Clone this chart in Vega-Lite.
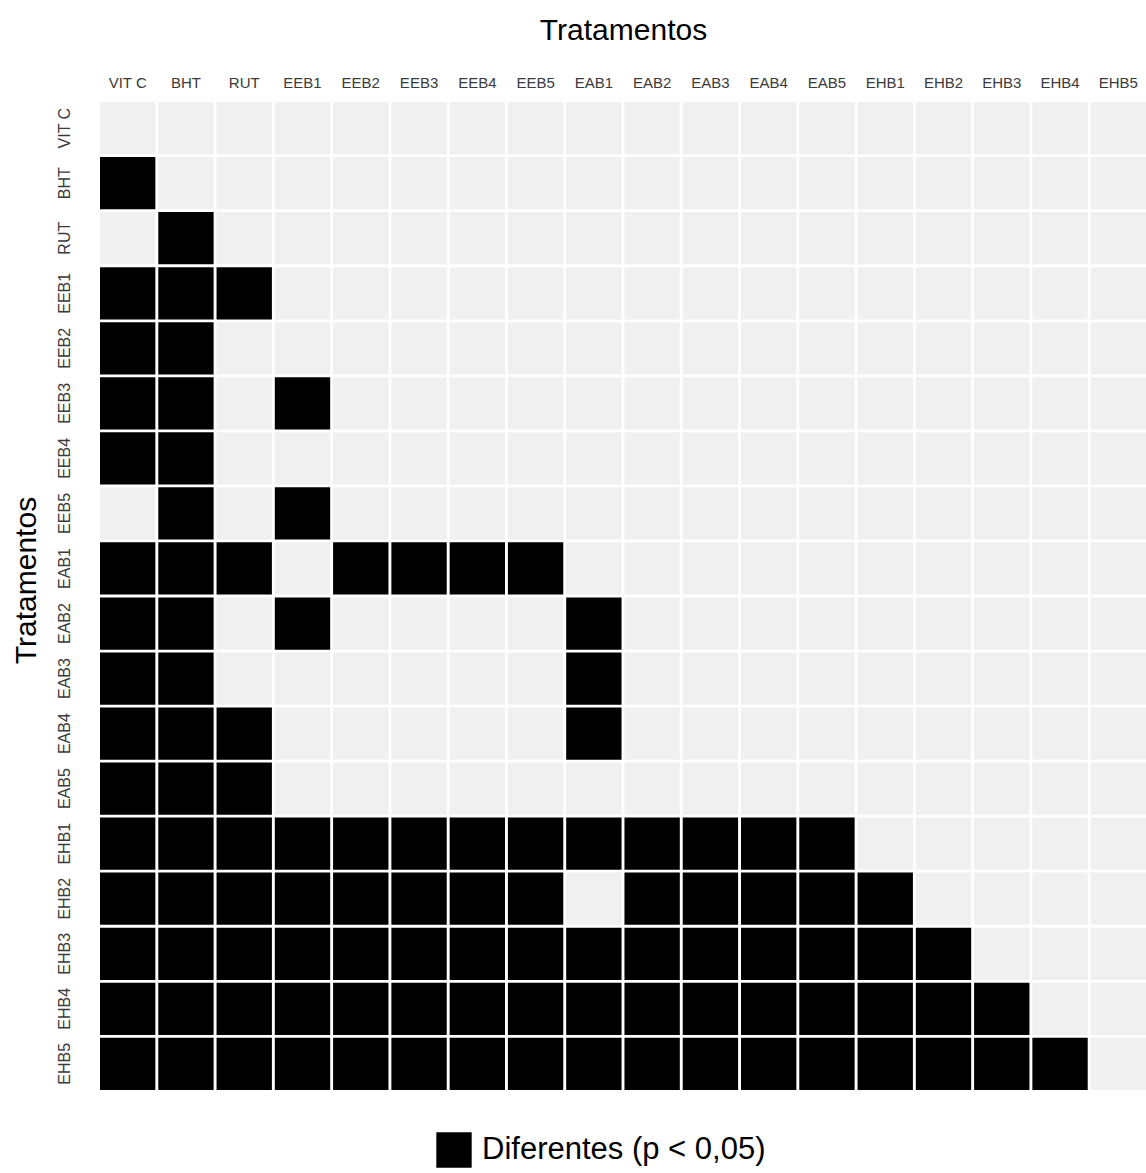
{
 "$schema": "https://vega.github.io/schema/vega-lite/v6.json",
 "width": 1046,
 "height": 988,
 "autosize": {"type": "none"},
 "padding": {"left": 100, "top": 102, "right": 0, "bottom": 83},
 "background": "white",
 "datasets": {
  "m": [
   {"linha":"VIT C","coluna":"VIT C","d":0},{"linha":"VIT C","coluna":"BHT","d":0},{"linha":"VIT C","coluna":"RUT","d":0},{"linha":"VIT C","coluna":"EEB1","d":0},{"linha":"VIT C","coluna":"EEB2","d":0},{"linha":"VIT C","coluna":"EEB3","d":0},{"linha":"VIT C","coluna":"EEB4","d":0},{"linha":"VIT C","coluna":"EEB5","d":0},{"linha":"VIT C","coluna":"EAB1","d":0},{"linha":"VIT C","coluna":"EAB2","d":0},{"linha":"VIT C","coluna":"EAB3","d":0},{"linha":"VIT C","coluna":"EAB4","d":0},{"linha":"VIT C","coluna":"EAB5","d":0},{"linha":"VIT C","coluna":"EHB1","d":0},{"linha":"VIT C","coluna":"EHB2","d":0},{"linha":"VIT C","coluna":"EHB3","d":0},{"linha":"VIT C","coluna":"EHB4","d":0},{"linha":"VIT C","coluna":"EHB5","d":0},
   {"linha":"BHT","coluna":"VIT C","d":1},{"linha":"BHT","coluna":"BHT","d":0},{"linha":"BHT","coluna":"RUT","d":0},{"linha":"BHT","coluna":"EEB1","d":0},{"linha":"BHT","coluna":"EEB2","d":0},{"linha":"BHT","coluna":"EEB3","d":0},{"linha":"BHT","coluna":"EEB4","d":0},{"linha":"BHT","coluna":"EEB5","d":0},{"linha":"BHT","coluna":"EAB1","d":0},{"linha":"BHT","coluna":"EAB2","d":0},{"linha":"BHT","coluna":"EAB3","d":0},{"linha":"BHT","coluna":"EAB4","d":0},{"linha":"BHT","coluna":"EAB5","d":0},{"linha":"BHT","coluna":"EHB1","d":0},{"linha":"BHT","coluna":"EHB2","d":0},{"linha":"BHT","coluna":"EHB3","d":0},{"linha":"BHT","coluna":"EHB4","d":0},{"linha":"BHT","coluna":"EHB5","d":0},
   {"linha":"RUT","coluna":"VIT C","d":0},{"linha":"RUT","coluna":"BHT","d":1},{"linha":"RUT","coluna":"RUT","d":0},{"linha":"RUT","coluna":"EEB1","d":0},{"linha":"RUT","coluna":"EEB2","d":0},{"linha":"RUT","coluna":"EEB3","d":0},{"linha":"RUT","coluna":"EEB4","d":0},{"linha":"RUT","coluna":"EEB5","d":0},{"linha":"RUT","coluna":"EAB1","d":0},{"linha":"RUT","coluna":"EAB2","d":0},{"linha":"RUT","coluna":"EAB3","d":0},{"linha":"RUT","coluna":"EAB4","d":0},{"linha":"RUT","coluna":"EAB5","d":0},{"linha":"RUT","coluna":"EHB1","d":0},{"linha":"RUT","coluna":"EHB2","d":0},{"linha":"RUT","coluna":"EHB3","d":0},{"linha":"RUT","coluna":"EHB4","d":0},{"linha":"RUT","coluna":"EHB5","d":0},
   {"linha":"EEB1","coluna":"VIT C","d":1},{"linha":"EEB1","coluna":"BHT","d":1},{"linha":"EEB1","coluna":"RUT","d":1},{"linha":"EEB1","coluna":"EEB1","d":0},{"linha":"EEB1","coluna":"EEB2","d":0},{"linha":"EEB1","coluna":"EEB3","d":0},{"linha":"EEB1","coluna":"EEB4","d":0},{"linha":"EEB1","coluna":"EEB5","d":0},{"linha":"EEB1","coluna":"EAB1","d":0},{"linha":"EEB1","coluna":"EAB2","d":0},{"linha":"EEB1","coluna":"EAB3","d":0},{"linha":"EEB1","coluna":"EAB4","d":0},{"linha":"EEB1","coluna":"EAB5","d":0},{"linha":"EEB1","coluna":"EHB1","d":0},{"linha":"EEB1","coluna":"EHB2","d":0},{"linha":"EEB1","coluna":"EHB3","d":0},{"linha":"EEB1","coluna":"EHB4","d":0},{"linha":"EEB1","coluna":"EHB5","d":0},
   {"linha":"EEB2","coluna":"VIT C","d":1},{"linha":"EEB2","coluna":"BHT","d":1},{"linha":"EEB2","coluna":"RUT","d":0},{"linha":"EEB2","coluna":"EEB1","d":0},{"linha":"EEB2","coluna":"EEB2","d":0},{"linha":"EEB2","coluna":"EEB3","d":0},{"linha":"EEB2","coluna":"EEB4","d":0},{"linha":"EEB2","coluna":"EEB5","d":0},{"linha":"EEB2","coluna":"EAB1","d":0},{"linha":"EEB2","coluna":"EAB2","d":0},{"linha":"EEB2","coluna":"EAB3","d":0},{"linha":"EEB2","coluna":"EAB4","d":0},{"linha":"EEB2","coluna":"EAB5","d":0},{"linha":"EEB2","coluna":"EHB1","d":0},{"linha":"EEB2","coluna":"EHB2","d":0},{"linha":"EEB2","coluna":"EHB3","d":0},{"linha":"EEB2","coluna":"EHB4","d":0},{"linha":"EEB2","coluna":"EHB5","d":0},
   {"linha":"EEB3","coluna":"VIT C","d":1},{"linha":"EEB3","coluna":"BHT","d":1},{"linha":"EEB3","coluna":"RUT","d":0},{"linha":"EEB3","coluna":"EEB1","d":1},{"linha":"EEB3","coluna":"EEB2","d":0},{"linha":"EEB3","coluna":"EEB3","d":0},{"linha":"EEB3","coluna":"EEB4","d":0},{"linha":"EEB3","coluna":"EEB5","d":0},{"linha":"EEB3","coluna":"EAB1","d":0},{"linha":"EEB3","coluna":"EAB2","d":0},{"linha":"EEB3","coluna":"EAB3","d":0},{"linha":"EEB3","coluna":"EAB4","d":0},{"linha":"EEB3","coluna":"EAB5","d":0},{"linha":"EEB3","coluna":"EHB1","d":0},{"linha":"EEB3","coluna":"EHB2","d":0},{"linha":"EEB3","coluna":"EHB3","d":0},{"linha":"EEB3","coluna":"EHB4","d":0},{"linha":"EEB3","coluna":"EHB5","d":0},
   {"linha":"EEB4","coluna":"VIT C","d":1},{"linha":"EEB4","coluna":"BHT","d":1},{"linha":"EEB4","coluna":"RUT","d":0},{"linha":"EEB4","coluna":"EEB1","d":0},{"linha":"EEB4","coluna":"EEB2","d":0},{"linha":"EEB4","coluna":"EEB3","d":0},{"linha":"EEB4","coluna":"EEB4","d":0},{"linha":"EEB4","coluna":"EEB5","d":0},{"linha":"EEB4","coluna":"EAB1","d":0},{"linha":"EEB4","coluna":"EAB2","d":0},{"linha":"EEB4","coluna":"EAB3","d":0},{"linha":"EEB4","coluna":"EAB4","d":0},{"linha":"EEB4","coluna":"EAB5","d":0},{"linha":"EEB4","coluna":"EHB1","d":0},{"linha":"EEB4","coluna":"EHB2","d":0},{"linha":"EEB4","coluna":"EHB3","d":0},{"linha":"EEB4","coluna":"EHB4","d":0},{"linha":"EEB4","coluna":"EHB5","d":0},
   {"linha":"EEB5","coluna":"VIT C","d":0},{"linha":"EEB5","coluna":"BHT","d":1},{"linha":"EEB5","coluna":"RUT","d":0},{"linha":"EEB5","coluna":"EEB1","d":1},{"linha":"EEB5","coluna":"EEB2","d":0},{"linha":"EEB5","coluna":"EEB3","d":0},{"linha":"EEB5","coluna":"EEB4","d":0},{"linha":"EEB5","coluna":"EEB5","d":0},{"linha":"EEB5","coluna":"EAB1","d":0},{"linha":"EEB5","coluna":"EAB2","d":0},{"linha":"EEB5","coluna":"EAB3","d":0},{"linha":"EEB5","coluna":"EAB4","d":0},{"linha":"EEB5","coluna":"EAB5","d":0},{"linha":"EEB5","coluna":"EHB1","d":0},{"linha":"EEB5","coluna":"EHB2","d":0},{"linha":"EEB5","coluna":"EHB3","d":0},{"linha":"EEB5","coluna":"EHB4","d":0},{"linha":"EEB5","coluna":"EHB5","d":0},
   {"linha":"EAB1","coluna":"VIT C","d":1},{"linha":"EAB1","coluna":"BHT","d":1},{"linha":"EAB1","coluna":"RUT","d":1},{"linha":"EAB1","coluna":"EEB1","d":0},{"linha":"EAB1","coluna":"EEB2","d":1},{"linha":"EAB1","coluna":"EEB3","d":1},{"linha":"EAB1","coluna":"EEB4","d":1},{"linha":"EAB1","coluna":"EEB5","d":1},{"linha":"EAB1","coluna":"EAB1","d":0},{"linha":"EAB1","coluna":"EAB2","d":0},{"linha":"EAB1","coluna":"EAB3","d":0},{"linha":"EAB1","coluna":"EAB4","d":0},{"linha":"EAB1","coluna":"EAB5","d":0},{"linha":"EAB1","coluna":"EHB1","d":0},{"linha":"EAB1","coluna":"EHB2","d":0},{"linha":"EAB1","coluna":"EHB3","d":0},{"linha":"EAB1","coluna":"EHB4","d":0},{"linha":"EAB1","coluna":"EHB5","d":0},
   {"linha":"EAB2","coluna":"VIT C","d":1},{"linha":"EAB2","coluna":"BHT","d":1},{"linha":"EAB2","coluna":"RUT","d":0},{"linha":"EAB2","coluna":"EEB1","d":1},{"linha":"EAB2","coluna":"EEB2","d":0},{"linha":"EAB2","coluna":"EEB3","d":0},{"linha":"EAB2","coluna":"EEB4","d":0},{"linha":"EAB2","coluna":"EEB5","d":0},{"linha":"EAB2","coluna":"EAB1","d":1},{"linha":"EAB2","coluna":"EAB2","d":0},{"linha":"EAB2","coluna":"EAB3","d":0},{"linha":"EAB2","coluna":"EAB4","d":0},{"linha":"EAB2","coluna":"EAB5","d":0},{"linha":"EAB2","coluna":"EHB1","d":0},{"linha":"EAB2","coluna":"EHB2","d":0},{"linha":"EAB2","coluna":"EHB3","d":0},{"linha":"EAB2","coluna":"EHB4","d":0},{"linha":"EAB2","coluna":"EHB5","d":0},
   {"linha":"EAB3","coluna":"VIT C","d":1},{"linha":"EAB3","coluna":"BHT","d":1},{"linha":"EAB3","coluna":"RUT","d":0},{"linha":"EAB3","coluna":"EEB1","d":0},{"linha":"EAB3","coluna":"EEB2","d":0},{"linha":"EAB3","coluna":"EEB3","d":0},{"linha":"EAB3","coluna":"EEB4","d":0},{"linha":"EAB3","coluna":"EEB5","d":0},{"linha":"EAB3","coluna":"EAB1","d":1},{"linha":"EAB3","coluna":"EAB2","d":0},{"linha":"EAB3","coluna":"EAB3","d":0},{"linha":"EAB3","coluna":"EAB4","d":0},{"linha":"EAB3","coluna":"EAB5","d":0},{"linha":"EAB3","coluna":"EHB1","d":0},{"linha":"EAB3","coluna":"EHB2","d":0},{"linha":"EAB3","coluna":"EHB3","d":0},{"linha":"EAB3","coluna":"EHB4","d":0},{"linha":"EAB3","coluna":"EHB5","d":0},
   {"linha":"EAB4","coluna":"VIT C","d":1},{"linha":"EAB4","coluna":"BHT","d":1},{"linha":"EAB4","coluna":"RUT","d":1},{"linha":"EAB4","coluna":"EEB1","d":0},{"linha":"EAB4","coluna":"EEB2","d":0},{"linha":"EAB4","coluna":"EEB3","d":0},{"linha":"EAB4","coluna":"EEB4","d":0},{"linha":"EAB4","coluna":"EEB5","d":0},{"linha":"EAB4","coluna":"EAB1","d":1},{"linha":"EAB4","coluna":"EAB2","d":0},{"linha":"EAB4","coluna":"EAB3","d":0},{"linha":"EAB4","coluna":"EAB4","d":0},{"linha":"EAB4","coluna":"EAB5","d":0},{"linha":"EAB4","coluna":"EHB1","d":0},{"linha":"EAB4","coluna":"EHB2","d":0},{"linha":"EAB4","coluna":"EHB3","d":0},{"linha":"EAB4","coluna":"EHB4","d":0},{"linha":"EAB4","coluna":"EHB5","d":0},
   {"linha":"EAB5","coluna":"VIT C","d":1},{"linha":"EAB5","coluna":"BHT","d":1},{"linha":"EAB5","coluna":"RUT","d":1},{"linha":"EAB5","coluna":"EEB1","d":0},{"linha":"EAB5","coluna":"EEB2","d":0},{"linha":"EAB5","coluna":"EEB3","d":0},{"linha":"EAB5","coluna":"EEB4","d":0},{"linha":"EAB5","coluna":"EEB5","d":0},{"linha":"EAB5","coluna":"EAB1","d":0},{"linha":"EAB5","coluna":"EAB2","d":0},{"linha":"EAB5","coluna":"EAB3","d":0},{"linha":"EAB5","coluna":"EAB4","d":0},{"linha":"EAB5","coluna":"EAB5","d":0},{"linha":"EAB5","coluna":"EHB1","d":0},{"linha":"EAB5","coluna":"EHB2","d":0},{"linha":"EAB5","coluna":"EHB3","d":0},{"linha":"EAB5","coluna":"EHB4","d":0},{"linha":"EAB5","coluna":"EHB5","d":0},
   {"linha":"EHB1","coluna":"VIT C","d":1},{"linha":"EHB1","coluna":"BHT","d":1},{"linha":"EHB1","coluna":"RUT","d":1},{"linha":"EHB1","coluna":"EEB1","d":1},{"linha":"EHB1","coluna":"EEB2","d":1},{"linha":"EHB1","coluna":"EEB3","d":1},{"linha":"EHB1","coluna":"EEB4","d":1},{"linha":"EHB1","coluna":"EEB5","d":1},{"linha":"EHB1","coluna":"EAB1","d":1},{"linha":"EHB1","coluna":"EAB2","d":1},{"linha":"EHB1","coluna":"EAB3","d":1},{"linha":"EHB1","coluna":"EAB4","d":1},{"linha":"EHB1","coluna":"EAB5","d":1},{"linha":"EHB1","coluna":"EHB1","d":0},{"linha":"EHB1","coluna":"EHB2","d":0},{"linha":"EHB1","coluna":"EHB3","d":0},{"linha":"EHB1","coluna":"EHB4","d":0},{"linha":"EHB1","coluna":"EHB5","d":0},
   {"linha":"EHB2","coluna":"VIT C","d":1},{"linha":"EHB2","coluna":"BHT","d":1},{"linha":"EHB2","coluna":"RUT","d":1},{"linha":"EHB2","coluna":"EEB1","d":1},{"linha":"EHB2","coluna":"EEB2","d":1},{"linha":"EHB2","coluna":"EEB3","d":1},{"linha":"EHB2","coluna":"EEB4","d":1},{"linha":"EHB2","coluna":"EEB5","d":1},{"linha":"EHB2","coluna":"EAB1","d":0},{"linha":"EHB2","coluna":"EAB2","d":1},{"linha":"EHB2","coluna":"EAB3","d":1},{"linha":"EHB2","coluna":"EAB4","d":1},{"linha":"EHB2","coluna":"EAB5","d":1},{"linha":"EHB2","coluna":"EHB1","d":1},{"linha":"EHB2","coluna":"EHB2","d":0},{"linha":"EHB2","coluna":"EHB3","d":0},{"linha":"EHB2","coluna":"EHB4","d":0},{"linha":"EHB2","coluna":"EHB5","d":0},
   {"linha":"EHB3","coluna":"VIT C","d":1},{"linha":"EHB3","coluna":"BHT","d":1},{"linha":"EHB3","coluna":"RUT","d":1},{"linha":"EHB3","coluna":"EEB1","d":1},{"linha":"EHB3","coluna":"EEB2","d":1},{"linha":"EHB3","coluna":"EEB3","d":1},{"linha":"EHB3","coluna":"EEB4","d":1},{"linha":"EHB3","coluna":"EEB5","d":1},{"linha":"EHB3","coluna":"EAB1","d":1},{"linha":"EHB3","coluna":"EAB2","d":1},{"linha":"EHB3","coluna":"EAB3","d":1},{"linha":"EHB3","coluna":"EAB4","d":1},{"linha":"EHB3","coluna":"EAB5","d":1},{"linha":"EHB3","coluna":"EHB1","d":1},{"linha":"EHB3","coluna":"EHB2","d":1},{"linha":"EHB3","coluna":"EHB3","d":0},{"linha":"EHB3","coluna":"EHB4","d":0},{"linha":"EHB3","coluna":"EHB5","d":0},
   {"linha":"EHB4","coluna":"VIT C","d":1},{"linha":"EHB4","coluna":"BHT","d":1},{"linha":"EHB4","coluna":"RUT","d":1},{"linha":"EHB4","coluna":"EEB1","d":1},{"linha":"EHB4","coluna":"EEB2","d":1},{"linha":"EHB4","coluna":"EEB3","d":1},{"linha":"EHB4","coluna":"EEB4","d":1},{"linha":"EHB4","coluna":"EEB5","d":1},{"linha":"EHB4","coluna":"EAB1","d":1},{"linha":"EHB4","coluna":"EAB2","d":1},{"linha":"EHB4","coluna":"EAB3","d":1},{"linha":"EHB4","coluna":"EAB4","d":1},{"linha":"EHB4","coluna":"EAB5","d":1},{"linha":"EHB4","coluna":"EHB1","d":1},{"linha":"EHB4","coluna":"EHB2","d":1},{"linha":"EHB4","coluna":"EHB3","d":1},{"linha":"EHB4","coluna":"EHB4","d":0},{"linha":"EHB4","coluna":"EHB5","d":0},
   {"linha":"EHB5","coluna":"VIT C","d":1},{"linha":"EHB5","coluna":"BHT","d":1},{"linha":"EHB5","coluna":"RUT","d":1},{"linha":"EHB5","coluna":"EEB1","d":1},{"linha":"EHB5","coluna":"EEB2","d":1},{"linha":"EHB5","coluna":"EEB3","d":1},{"linha":"EHB5","coluna":"EEB4","d":1},{"linha":"EHB5","coluna":"EEB5","d":1},{"linha":"EHB5","coluna":"EAB1","d":1},{"linha":"EHB5","coluna":"EAB2","d":1},{"linha":"EHB5","coluna":"EAB3","d":1},{"linha":"EHB5","coluna":"EAB4","d":1},{"linha":"EHB5","coluna":"EAB5","d":1},{"linha":"EHB5","coluna":"EHB1","d":1},{"linha":"EHB5","coluna":"EHB2","d":1},{"linha":"EHB5","coluna":"EHB3","d":1},{"linha":"EHB5","coluna":"EHB4","d":1},{"linha":"EHB5","coluna":"EHB5","d":0}
  ]
 },
 "data": {"name": "m"},
 "mark": {"type": "rect"},
 "encoding": {
  "x": {
   "field": "coluna", "type": "nominal",
   "sort": ["VIT C","BHT","RUT","EEB1","EEB2","EEB3","EEB4","EEB5","EAB1","EAB2","EAB3","EAB4","EAB5","EHB1","EHB2","EHB3","EHB4","EHB5"],
   "scale": {"paddingInner": 0.05, "paddingOuter": 0},
   "axis": {"orient": "top", "title": "Tratamentos", "labelAngle": 0, "ticks": false, "domain": false, "grid": false,
     "labelFont": "Liberation Sans", "labelFontSize": 15, "labelColor": "#3a3a3a", "labelPadding": 12,
     "titleFont": "Liberation Sans", "titleFontSize": 30, "titleFontWeight": "normal", "titleColor": "#000000", "titlePadding": 30}
  },
  "y": {
   "field": "linha", "type": "nominal",
   "sort": ["VIT C","BHT","RUT","EEB1","EEB2","EEB3","EEB4","EEB5","EAB1","EAB2","EAB3","EAB4","EAB5","EHB1","EHB2","EHB3","EHB4","EHB5"],
   "scale": {"paddingInner": 0.05, "paddingOuter": 0},
   "axis": {"title": "Tratamentos", "labelAngle": 270, "ticks": false, "domain": false, "grid": false,
     "labelFont": "Liberation Sans", "labelFontSize": 16, "labelColor": "#3a3a3a", "labelPadding": 28,
     "titleFont": "Liberation Sans", "titleFontSize": 30, "titleFontWeight": "normal", "titleColor": "#000000", "titlePadding": 15, "titleY": 478}
  },
  "color": {
   "field": "d", "type": "nominal",
   "scale": {"domain": [1, 0], "range": ["#000000", "#f0f0f0"]},
   "legend": {"values": [1], "labelExpr": "'Diferentes (p < 0,05)'", "title": null, "orient": "none", "legendX": 336, "legendY": 1030,
     "symbolType": "square", "symbolSize": 1250, "symbolStrokeWidth": 0, "symbolOpacity": 1,
     "labelFont": "Liberation Sans", "labelFontSize": 31, "labelColor": "#000000", "labelOffset": 10, "labelLimit": 500}
  }
 },
 "config": {"view": {"stroke": null}}
}
